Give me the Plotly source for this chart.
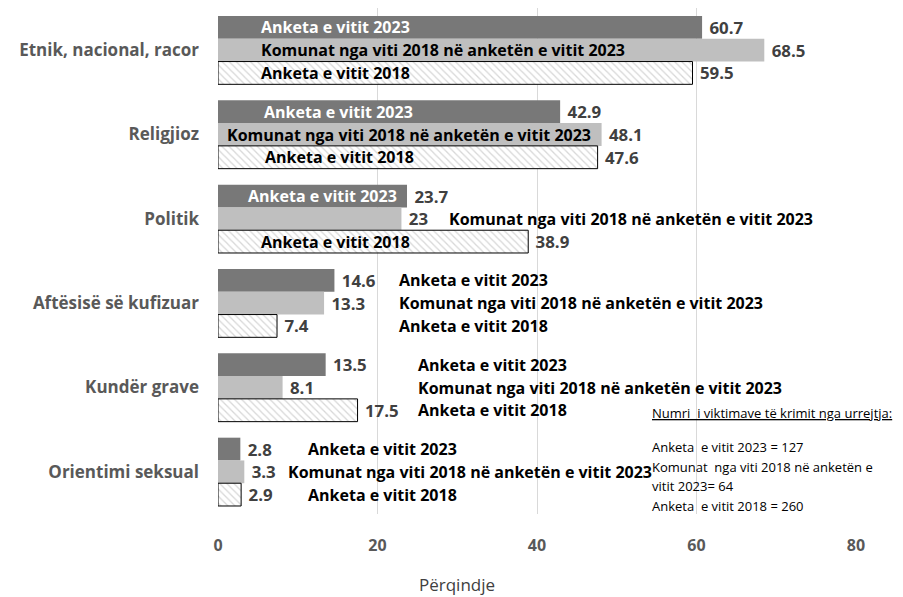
import plotly.graph_objects as go

# categories, top to bottom
categories = ["Etnik, nacional, racor", "Religjioz", "Politik",
              "Aftësisë së kufizuar", "Kundër grave", "Orientimi seksual"]

series_names = ["Anketa e vitit 2023",
                "Komunat nga viti 2018 në anketën e vitit 2023",
                "Anketa e vitit 2018"]

survey_2023 = [60.7, 42.9, 23.7, 14.6, 13.5, 2.8]
municipalities_2023 = [68.5, 48.1, 23, 13.3, 8.1, 3.3]
survey_2018 = [59.5, 47.6, 38.9, 7.4, 17.5, 2.9]

victims_note = ["Anketa  e vitit 2023 = 127",
                "Komunat  nga viti 2018 në anketën e",
                "vitit 2023= 64",
                "Anketa  e vitit 2018 = 260"]

# where the series-name label starts on each bar (x in percent)
label_x = [
    [5.1, 5.1, 5.1],
    [5.5, 0.9, 5.6],
    [3.5, 28.7, 5.1],
    [22.4, 22.4, 22.4],
    [24.8, 24.8, 24.8],
    [11.0, 8.5, 11.0],
]
label_white = [
    [True, False, False],
    [True, False, False],
    [True, False, False],
    [False, False, False],
    [False, False, False],
    [False, False, False],
]

FONT = "Open Sans"
ypos = list(range(len(categories)))
bar_w = 0.27
offsets = [-bar_w, 0, bar_w]

fig = go.Figure()

styles = [
    dict(color="#787878", line=dict(width=0)),
    dict(color="#bfbfbf", line=dict(width=0)),
    dict(color="white", line=dict(color="black", width=1),
         pattern=dict(shape="\\", fgcolor="#b0b0b0", bgcolor="white",
                      size=5, solidity=0.25)),
]

for name, vals, st in zip(series_names,
                          [survey_2023, municipalities_2023, survey_2018],
                          styles):
    fig.add_trace(go.Bar(
        y=ypos, x=vals, orientation="h", name=name,
        marker=st,
        text=[f"\u00a0{v:g}" for v in vals],
        textposition="outside",
        textfont=dict(family=FONT, size=17, color="#404040", weight="bold"),
        cliponaxis=False,
        showlegend=False,
    ))

annotations = []
for i in range(len(categories)):
    for j in range(3):
        annotations.append(dict(
            x=label_x[i][j], y=ypos[i] + offsets[j],
            xref="x", yref="y",
            text=f"<b>{series_names[j]}</b>",
            showarrow=False, xanchor="left", yanchor="middle",
            font=dict(family=FONT, size=16,
                      color="white" if label_white[i][j] else "black"),
        ))

# note and axis title, placed in pixels then converted to paper coords
L, R, T, B = 218, 47, 8, 83
pw, ph = 903 - L - R, 597 - T - B


def px(x, y):
    return (x - L) / pw, 1 - (y - T) / ph


nx, ny = px(650, 413)
annotations.append(dict(
    x=nx, y=ny, xref="paper", yref="paper",
    text='<span style="text-decoration:underline">Numri  i viktimave të krimit nga urrejtja:</span>',
    showarrow=False, xanchor="left", yanchor="middle",
    font=dict(family=FONT, size=13, color="black"),
))
for k, line in enumerate(victims_note):
    nx, ny = px(650, 447 + k * 19.7)
    annotations.append(dict(
        x=nx, y=ny, xref="paper", yref="paper",
        text=line, showarrow=False, xanchor="left", yanchor="middle",
        font=dict(family=FONT, size=13, color="black"),
    ))

tx, ty = px(457, 584)
annotations.append(dict(
    x=tx, y=ty, xref="paper", yref="paper",
    text="Përqindje", showarrow=False, xanchor="center", yanchor="middle",
    font=dict(family=FONT, size=17, color="#404040"),
))

fig.update_layout(
    width=903, height=597,
    margin=dict(l=L, r=R, t=T, b=B),
    paper_bgcolor="white", plot_bgcolor="white",
    barmode="group", bargap=0.19, bargroupgap=0,
    annotations=annotations,
    font=dict(family=FONT),
)
fig.update_xaxes(
    range=[0, 80], tickvals=[0, 20, 40, 60, 80],
    showgrid=True, gridcolor="#d9d9d9", gridwidth=1,
    zeroline=False, showline=False, automargin=False,
    tickfont=dict(family=FONT, size=16, color="#595959", weight="bold"),
    ticklabelstandoff=20,
)
fig.update_yaxes(
    tickvals=ypos, ticktext=categories,
    autorange=False, range=[len(categories) - 0.5, -0.5],
    showgrid=False, zeroline=False, showline=False, automargin=False,
    tickfont=dict(family=FONT, size=17, color="#595959", weight="bold"),
    ticklabelstandoff=18,
)

# the page body has a default 8px margin; drop it so the figure sits at 0,0
fig.write_html("out.html", config={"displayModeBar": False},
               post_script="document.body.style.margin='0';")
